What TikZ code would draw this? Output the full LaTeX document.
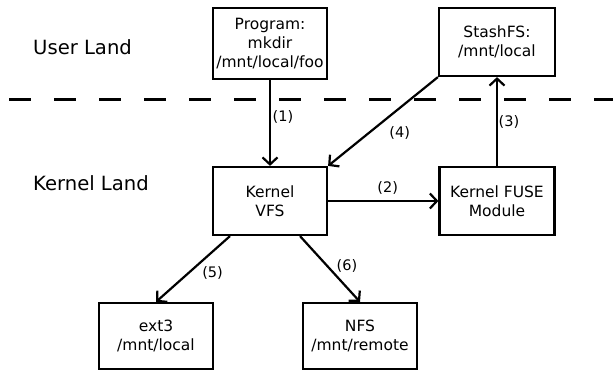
\documentclass[tikz,border=0pt]{standalone}
\usepackage{fontspec}
\setmainfont{DejaVu Sans}
\usetikzlibrary{arrows.meta}
\begin{document}
\begin{tikzpicture}[x=1pt,y=-1pt,
  box/.style={draw,line width=2.2pt,align=center,inner sep=0pt,
    font=\fontsize{15.5}{18.6}\selectfont},
  conn/.style={line width=2.2pt,-{Straight Barb[length=7pt,width=15pt,line width=2.2pt]}},
  lbl/.style={font=\fontsize{14.5}{17}\selectfont,inner sep=0pt},
  land/.style={font=\fontsize{19.6}{23}\selectfont,anchor=west,inner sep=0pt}]
\useasboundingbox (0,0) rectangle (613,371);
\node[land] (ul) at (33,47) {User Land};
\node[land] (kl) at (33,183) {Kernel Land};
\coordinate (dl) at (9,99.5);
\coordinate (dr) at (613,99.5);
\draw[line width=2.2pt,dash pattern=on 22pt off 23pt] (dl) -- (dr);
\node[box,minimum width=114pt,minimum height=71pt] (prog) at (270,43.5) {Program:\\mkdir\\/mnt/local/foo};
\node[box,minimum width=116pt,minimum height=68pt] (stash) at (497,42) {StashFS:\\/mnt/local};
\node[box,minimum width=114pt,minimum height=68pt] (vfs) at (270,201) {Kernel\\VFS};
\node[box,minimum width=115pt,minimum height=68pt] (fuse) at (497,201) {Kernel FUSE\\Module};
\node[box,minimum width=114pt,minimum height=66pt] (ext) at (156,336) {ext3\\/mnt/local};
\node[box,minimum width=114pt,minimum height=66pt] (nfs) at (360,336) {NFS\\/mnt/remote};
\draw[conn] (prog.south) -- node[lbl,pos=0.43,xshift=13pt] {(1)} (vfs.north);
\draw[conn] (vfs.east) -- node[lbl,pos=0.54,yshift=13pt] {(2)} (fuse.west);
\draw[conn] (fuse.north) -- node[lbl,pos=0.5,xshift=12pt] {(3)} (fuse.north |- stash.south);
\draw[conn] (stash.south west) -- node[lbl,pos=0.63,xshift=31pt] {(4)} (vfs.north east);
\draw[conn] ([xshift=-40pt]vfs.south) -- node[lbl,pos=0.56,xshift=24pt] {(5)} (ext.north);
\draw[conn] ([xshift=30pt]vfs.south) -- node[lbl,pos=0.45,xshift=20pt] {(6)} (nfs.north);
\end{tikzpicture}
\end{document}
